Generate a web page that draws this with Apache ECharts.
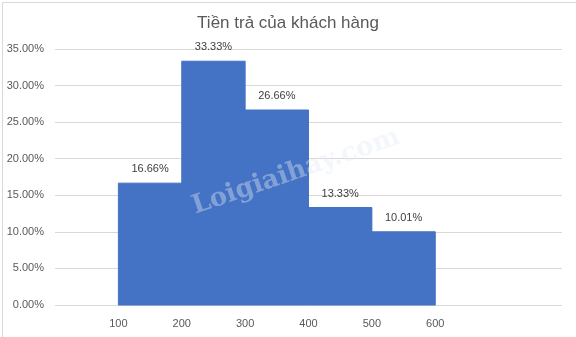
<!DOCTYPE html>
<html><head><meta charset="utf-8">
<script src="https://cdn.jsdelivr.net/npm/echarts@6/dist/echarts.min.js"></script>
<style>html,body{margin:0;padding:0;background:#fff}#c{width:576px;height:337px}</style>
</head><body><div id="c"></div>
<script>
const titleText = 'Tiền trả của khách hàng';
const binStarts = [100, 200, 300, 400, 500];
const binEnds = [200, 300, 400, 500, 600];
const values = [16.66, 33.33, 26.66, 13.33, 10.01];
const xTickLabels = [100, 200, 300, 400, 500, 600];
const yTicks = [0, 5, 10, 15, 20, 25, 30, 35];

const FONT = 'Liberation Sans';
const chart = echarts.init(document.getElementById('c'), null, {renderer: 'canvas'});
const data = values.map((v, i) => [binStarts[i], binEnds[i], v]);

chart.setOption({
  animation: false,
  backgroundColor: '#fff',
  title: {text: titleText, left: 'center', top: 10,
    textStyle: {fontFamily: FONT, fontSize: 17, fontWeight: 'normal', color: '#595959'}},
  grid: {left: 55, right: 14, top: 49, bottom: 32, containLabel: false},
  xAxis: {type: 'value', min: 0, max: 800, interval: 100,
    axisLine: {show: false}, axisTick: {show: false}, splitLine: {show: false},
    axisLabel: {fontFamily: FONT, fontSize: 11, color: '#595959', margin: 13,
      formatter: v => xTickLabels.indexOf(v) >= 0 ? String(v) : ''}},
  yAxis: {type: 'value', min: yTicks[0], max: yTicks[yTicks.length - 1], interval: 5,
    axisLine: {show: false}, axisTick: {show: false},
    splitLine: {lineStyle: {color: '#d9d9d9', width: 1}},
    axisLabel: {fontFamily: FONT, fontSize: 11, color: '#595959', margin: 11,
      formatter: v => v.toFixed(2) + '%'}},
  series: [{
    type: 'custom',
    data: data,
    encode: {x: [0, 1], y: 2},
    renderItem: function (params, api) {
      const p0 = api.coord([api.value(0), api.value(2)]);
      const p1 = api.coord([api.value(1), 0]);
      const cx = (p0[0] + p1[0]) / 2;
      return {type: 'group', children: [
        {type: 'rect', shape: {x: p0[0], y: p0[1], width: p1[0] - p0[0], height: p1[1] - p0[1]},
          style: {fill: '#4472C4', stroke: '#4472C4', lineWidth: 1}},
        {type: 'text', x: cx, y: p0[1] - 14,
          style: {text: api.value(2).toFixed(2) + '%', fill: '#404040', font: '11px ' + FONT,
            align: 'center', verticalAlign: 'middle'}}
      ]};
    },
    z: 2
  }],
  graphic: [
    {type: 'rect', left: 0, top: 0, z: 100, silent: true,
      shape: {x: 0.5, y: 0.5, width: 575, height: 336},
      style: {fill: 'none', stroke: '#d9d9d9', lineWidth: 1}},
    {type: 'text', x: 296, y: 172, rotation: 19 * Math.PI / 180, z: 50, silent: true,
      style: {text: 'Loigiaihay.com', font: 'bold 26px "DejaVu Serif"', fill: 'rgba(225,232,245,0.4)',
        align: 'center', verticalAlign: 'middle'}}
  ]
});
</script></body></html>
